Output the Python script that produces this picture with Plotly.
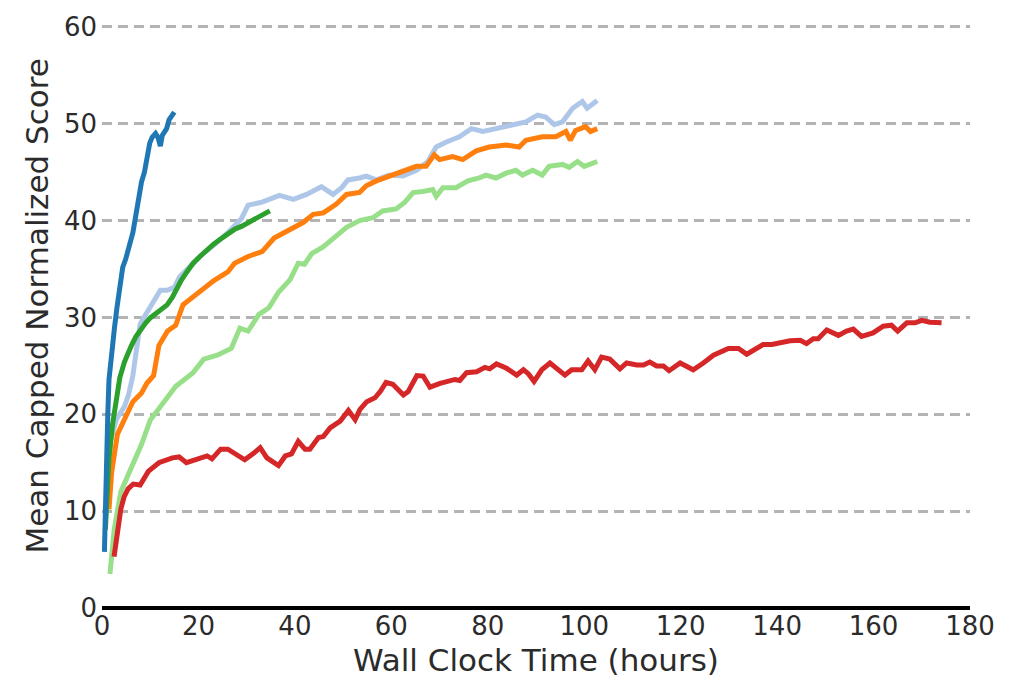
import plotly.graph_objects as go

# ---- data ----
blue_x = [0.5, 0.7, 0.9, 1.2, 1.45, 1.8, 2.15, 2.6, 3.1, 3.7,
          4.3, 4.9, 5.4, 5.9, 6.4, 7.0, 7.5, 8.2, 8.8, 9.3,
          9.9, 10.4, 11.1, 11.6, 12.1, 12.5, 12.8, 13.4, 13.9, 14.5,
          15.0]
blue_y = [5.8, 11, 15.9, 20, 23.6, 25.5, 27.5, 29, 31, 33.5,
          35.2, 36, 37, 38, 38.75, 40.5, 42.3, 44, 45, 46.5,
          48, 48.6, 49, 48.6, 47.7, 48.8, 49, 49.5, 50.4, 50.8,
          51.2]

green_x = [0.7, 1.0, 1.45, 2.2, 2.9, 3.7, 4.65, 5.3, 6.1, 7.0,
           7.9, 9.0, 10, 11.2, 12.5, 13.5, 14.6, 15.5, 16.4, 17.6,
           18.9, 20.3, 21.8, 23.2, 24.6, 26, 27.5, 28.9, 30.3, 31.8,
           33.2, 34.8]
green_y = [8.1, 12, 15.5, 19, 21.5, 23.8, 25.4, 26.3, 27.1, 28,
           28.7, 29.4, 29.95, 30.4, 30.8, 31.3, 32.1, 33.0, 33.8, 34.7,
           35.6, 36.3, 37, 37.6, 38.1, 38.6, 39.1, 39.4, 39.8, 40.2,
           40.5, 41]

lightblue_x = [0.7, 1.2, 1.8, 3.0, 4.65, 5.5, 6.4, 7.1, 7.9, 8.7,
               9.6, 10.3, 11.1, 12.1, 13.5, 15.0, 16.1, 18.2, 21.1, 23.5,
               26.1, 28.9, 30.3, 33.2, 36.8, 39.7, 42.4, 45.5, 47.9, 49.7,
               51, 53.4, 54.8, 56.9, 59.6, 62.4, 65.2, 67.6, 69.3, 71.3,
               74.1, 76.6, 79, 81.7, 85.2, 87.9, 90.3, 92, 93.8, 95.5,
               97.6, 99.6, 100.6, 102.7]
lightblue_y = [9, 13.5, 17.3, 19.5, 20.8, 22, 24, 26.5, 29.3, 30.0,
               30.7, 31.3, 32.1, 32.8, 32.8, 33.1, 34.2, 35.2, 36.65, 37.6,
               38.75, 40.2, 41.6, 41.9, 42.6, 42.2, 42.7, 43.5, 42.7, 43.4,
               44.2, 44.4, 44.6, 44.2, 44.7, 44.6, 45.2, 46.1, 47.6, 48.1,
               48.65, 49.5, 49.2, 49.5, 49.85, 50.2, 50.9, 50.7, 49.9, 50.2,
               51.6, 52.3, 51.6, 52.4]

orange_x = [1.45, 2.0, 3.2, 4.65, 6.4, 8.2, 9.3, 10.7, 11.8, 13.6,
            15.3, 16.8, 18.9, 21.1, 23.2, 26.1, 27.5, 30.3, 33.2, 35.7,
            38.9, 41.7, 43.8, 45.9, 48.6, 50.7, 53.4, 54.8, 56.9, 59.6,
            62.4, 65.2, 67.2, 68.9, 70, 72.7, 74.8, 77.6, 80.3, 83.8,
            86.5, 87.9, 91.3, 94.1, 96.2, 97.1, 98.2, 100.3, 101.3, 102.7]
orange_y = [10.2, 14, 17.95, 19.55, 21.3, 22.2, 23.2, 24, 27.1, 28.6,
            29.2, 31.3, 32.1, 33.1, 33.8, 34.7, 35.6, 36.3, 36.8, 38.2,
            39.1, 39.8, 40.65, 40.8, 41.7, 42.7, 42.9, 43.6, 44.1, 44.6,
            45.1, 45.6, 45.6, 46.8, 46.3, 46.6, 46.3, 47.2, 47.6, 47.8,
            47.6, 48.3, 48.65, 48.65, 49.2, 48.3, 49.3, 49.7, 49.2, 49.5]

lightgreen_x = [1.65, 2.5, 3.9, 5.0, 6.1, 8.2, 10, 12.5, 15.3, 18.9,
                21.1, 23.9, 26.8, 28.6, 30.3, 32.5, 34.6, 36.6, 39, 40.7,
                42, 43.5, 45.9, 48.3, 50.7, 53.4, 56.2, 58.2, 61, 62.8,
                64.5, 66.5, 68.6, 69.3, 70.7, 73.4, 75.9, 78.2, 79.6, 81.7,
                83.8, 85.8, 87.2, 89.3, 91.3, 92.7, 95.5, 96.9, 98.6, 100,
                102.7]
lightgreen_y = [3.5, 8, 12, 13.3, 14.4, 16.9, 19.4, 21.1, 22.9, 24.3,
                25.7, 26.1, 26.8, 28.9, 28.6, 30.3, 31, 32.6, 33.9, 35.6,
                35.5, 36.6, 37.3, 38.3, 39.3, 40, 40.3, 41, 41.2, 41.9,
                42.9, 43, 43.2, 42.5, 43.4, 43.4, 44.1, 44.4, 44.7, 44.4,
                44.9, 45.2, 44.7, 45.2, 44.7, 45.6, 45.8, 45.5, 46.1, 45.6,
                46.1]

red_x = [2.5, 3.2, 3.9, 4.6, 5.4, 6.5, 7.9, 9.6, 11.8, 14.6,
         16, 17.5, 20.3, 21.8, 22.8, 24.6, 26.1, 29.6, 31.5, 32.8,
         34.2, 36.6, 38, 39.3, 40.7, 42.1, 43.1, 44.9, 45.9, 47.3,
         49.4, 51.1, 52.5, 53.5, 54.9, 56.6, 57.7, 58.9, 60.3, 62.5,
         63.5, 65.3, 66.6, 68, 70.1, 72.2, 73.2, 74.2, 75.6, 77.7,
         79.4, 80.4, 81.8, 83.9, 86, 87.4, 88.4, 89.6, 91.2, 92.9,
         94.3, 96, 97.4, 99.5, 100.8, 102.2, 103.6, 105.3, 107.4, 108.8,
         110.9, 112.3, 113.6, 115, 116.4, 117.6, 119.9, 122.6, 124.7, 126.8,
         129.9, 132, 133.7, 136.1, 137.1, 138.9, 142.7, 144.8, 146.1, 147.5,
         148.5, 150.3, 152.7, 154.4, 155.8, 157.5, 159.9, 162, 163.7, 165,
         166.9, 168.6, 170, 171.7, 174.1]
red_y = [5.3, 8, 10.2, 11.5, 12.3, 12.8, 12.7, 14.1, 15, 15.5,
         15.6, 15, 15.5, 15.7, 15.4, 16.4, 16.4, 15.3, 16.0, 16.55,
         15.5, 14.7, 15.7, 15.9, 17.2, 16.4, 16.4, 17.6, 17.7, 18.6,
         19.3, 20.4, 19.45, 20.5, 21.3, 21.7, 22.35, 23.3, 23.1, 22,
         22.35, 24, 23.95, 22.8, 23.2, 23.4, 23.6, 23.5, 24.3, 24.4,
         24.85, 24.7, 25.2, 24.75, 24.05, 24.6, 24.2, 23.4, 24.6, 25.3,
         24.8, 24.05, 24.6, 24.6, 25.5, 24.6, 25.9, 25.7, 24.7, 25.3,
         25.1, 25.1, 25.4, 25, 25, 24.5, 25.3, 24.6, 25.3, 26.1,
         26.8, 26.8, 26.2, 27, 27.2, 27.2, 27.6, 27.65, 27.3, 27.8,
         27.8, 28.7, 28.15, 28.6, 28.8, 28.05, 28.4, 29.1, 29.2, 28.6,
         29.45, 29.45, 29.7, 29.5, 29.45]

x_ticks = [0, 20, 40, 60, 80, 100, 120, 140, 160, 180]
y_ticks = [0, 10, 20, 30, 40, 50, 60]

series = [
    (lightblue_x, lightblue_y, "#aec7e8"),
    (orange_x, orange_y, "#ff7f0e"),
    (lightgreen_x, lightgreen_y, "#98df8a"),
    (red_x, red_y, "#d62728"),
    (green_x, green_y, "#2ca02c"),
    (blue_x, blue_y, "#1f77b4"),
]

FONT = "DejaVu Sans"
TXT = "#2b2b2b"

fig = go.Figure()
for xs, ys, col in series:
    fig.add_trace(go.Scatter(x=xs, y=ys, mode="lines",
                             line=dict(color=col, width=5),
                             showlegend=False, hoverinfo="skip"))

fig.update_layout(
    width=1009, height=684,
    margin=dict(l=102, r=39, t=21, b=74),
    paper_bgcolor="white", plot_bgcolor="white",
    font=dict(family=FONT, color=TXT),
)
fig.update_xaxes(
    range=[0, 180], tickvals=x_ticks, ticks="", showgrid=False,
    zeroline=False, showline=False,
    tickfont=dict(family=FONT, size=26, color=TXT),
    title=dict(text="Wall Clock Time (hours)",
               font=dict(family=FONT, size=31, color=TXT), standoff=9),
)
fig.update_yaxes(
    range=[0, 60.3], tickvals=y_ticks, ticks="",
    showgrid=True, gridcolor="#b3b3b3", gridwidth=2.5, griddash="10px,6px",
    zeroline=True, zerolinecolor="black", zerolinewidth=4,
    showline=False,
    tickfont=dict(family=FONT, size=26, color=TXT),
    ticklabelstandoff=4,
)
fig.add_annotation(
    text="Mean Capped Normalized Score", textangle=-90,
    xref="paper", yref="paper", x=0, y=(610 - 306) / 589,
    xanchor="center", yanchor="middle", xshift=-65, showarrow=False,
    font=dict(family=FONT, size=31, color=TXT),
)

fig.write_html("out.html")
